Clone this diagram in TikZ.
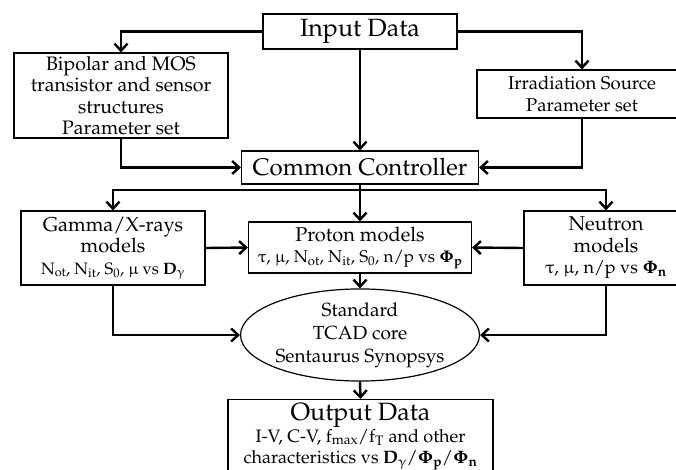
\documentclass[tikz,border=0pt]{standalone}
\usepackage[T1]{fontenc}
\usepackage{mathpazo}
\usepackage{upgreek}
\usetikzlibrary{arrows.meta,shapes.geometric}
\newcommand\fsz[2]{\fontsize{#1}{#2}\selectfont}
\begin{document}
\begin{tikzpicture}[x=1pt,y=-1pt,
  box/.style={draw,line width=1.2pt,inner sep=0pt,align=center,font=\fsz{20}{21.5}},
  bigtext/.style={font=\fsz{25}{26}},
  corebox/.style={ellipse,draw,line width=1.2pt,inner sep=0pt,align=center,font=\fsz{19}{23}},
  conn/.style={line width=2.4pt,line join=miter,-{Straight Barb[length=7pt,width=13pt]}}]
\useasboundingbox (0,0) rectangle (676,470);
\clip (0,0) rectangle (676,470);
\fill[white] (0,0) rectangle (676,470);

\node[box,bigtext,minimum width=194pt,minimum height=35pt] (inp) at (360,31.5) {Input Data};
\node[box,font=\fsz{19.5}{21.5},minimum width=214pt,minimum height=85pt] (bip) at (121,95.5)
  {Bipolar and MOS\\transistor and sensor\\structures\\Parameter set};
\node[box,font=\fsz{18.5}{21.5},minimum width=210pt,minimum height=48pt] (irr) at (582,94)
  {Irradiation Source\\Parameter set};
\node[box,font=\fsz{24}{26},minimum width=237pt,minimum height=33pt] (cc) at (360,167.5) {Common Controller};
\node[box,minimum width=184pt,minimum height=74pt] (gam) at (113,248)
  {Gamma/X-rays\\models\\{\fsz{16.5}{21}N$_{\mathrm{ot}}$, N$_{\mathrm{it}}$, S$_{0}$, $\upmu$ vs \textbf{D}$_{\upgamma}$}};
\node[box,minimum width=223pt,minimum height=51pt] (pro) at (360,247.5)
  {Proton models\\{\fsz{17}{21}$\uptau$, $\upmu$, N$_{\mathrm{ot}}$, N$_{\mathrm{it}}$, S$_{0}$, n/p vs {\boldmath$\Phi_{\mathrm{p}}$}}};
\node[box,minimum width=164pt,minimum height=74pt] (neu) at (606,248)
  {Neutron\\models\\{\fsz{18}{21}$\uptau$, $\upmu$, n/p vs {\boldmath$\Phi_{\mathrm{n}}$}}};
\node[corebox,minimum width=216pt,minimum height=90pt] (core) at (360,335)
  {Standard\\TCAD core\\Sentaurus Synopsys};
\node[box,minimum width=265pt,minimum height=74pt,anchor=north] (out) at (360.5,399)
  {{\fsz{25}{23}Output Data}\\{\fsz{18}{19}I-V, C-V, f$_{\mathrm{max}}$/f$_{\mathrm{T}}$ and other}\\{\fsz{18}{19}characteristics vs \textbf{D}$_{\upgamma}$/{\boldmath$\Phi_{\mathrm{p}}$}/{\boldmath$\Phi_{\mathrm{n}}$}}};

\coordinate (busC) at (360,190);
\draw[conn] (inp.west) -| (bip.north);
\draw[conn] (inp.east) -| (irr.north);
\draw[conn] (inp.south) -- (cc.north);
\draw[conn] (bip.south) |- (cc.west);
\draw[conn] (irr.south) |- (cc.east);
\draw[conn] (cc.south) -- (pro.north);
\draw[conn] (busC) -| (gam.north);
\draw[conn] (busC) -| (neu.north);
\draw[conn] (gam.east) -- (pro.west);
\draw[conn] (neu.west) -- (pro.east);
\draw[conn] (pro.south) -- (core.north);
\draw[conn] (gam.south) |- (core.west);
\draw[conn] (neu.south) |- (core.east);
\draw[conn] (core.south) -- (out.north);
\end{tikzpicture}
\end{document}
